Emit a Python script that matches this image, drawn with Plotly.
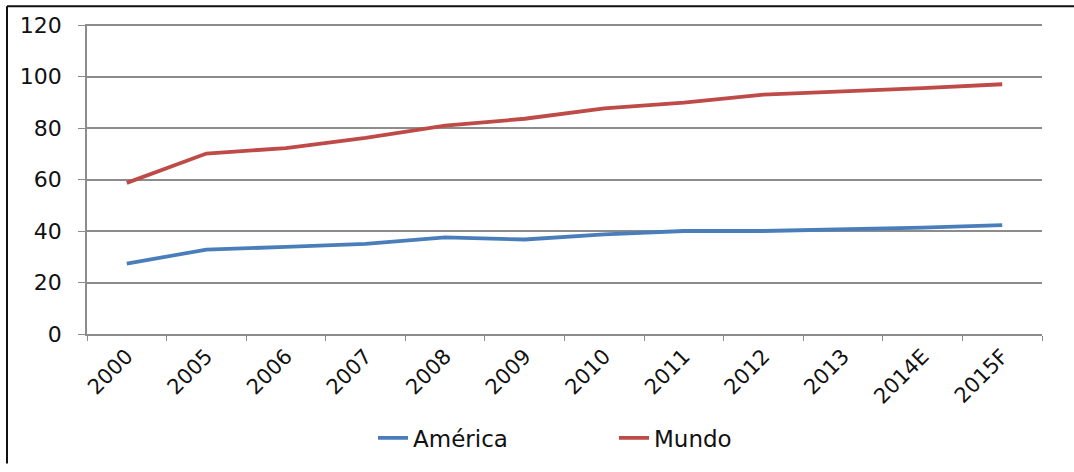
import plotly.graph_objects as go

categories = ["2000", "2005", "2006", "2007", "2008", "2009", "2010", "2011", "2012", "2013", "2014E", "2015F"]
america = [27.3, 32.8, 33.8, 35.0, 37.5, 36.7, 38.7, 40.0, 40.0, 40.6, 41.3, 42.3]
mundo = [58.7, 70.1, 72.2, 76.2, 80.9, 83.6, 87.6, 89.9, 93.0, 94.1, 95.5, 97.0]
y_ticks = [0, 20, 40, 60, 80, 100, 120]

W, H = 1074, 472
L, R, T, B = 87, 32, 24, 132
pw, ph = W - L - R, H - T - B

def px_x(p):
    return (p - L) / pw

def px_y(p):
    return (H - B - p) / ph

FONT = "DejaVu Sans, Verdana, sans-serif"

fig = go.Figure()
fig.add_trace(go.Scatter(x=categories, y=america, mode="lines", name="América",
                         line=dict(color="#4A7EBB", width=3.8)))
fig.add_trace(go.Scatter(x=categories, y=mundo, mode="lines", name="Mundo",
                         line=dict(color="#BE4B48", width=3.8)))

fig.update_layout(
    width=W, height=H,
    margin=dict(l=L, r=R, t=T, b=B, pad=0),
    paper_bgcolor="white", plot_bgcolor="white",
    font=dict(family=FONT, size=22, color="#111111"),
    showlegend=True,
    legend=dict(orientation="h", x=px_x(373), xanchor="left", y=px_y(446), yanchor="middle",
                font=dict(size=23), entrywidth=196, entrywidthmode="pixels",
                itemwidth=30, tracegroupgap=0),
    xaxis=dict(type="category", range=[-0.5, len(categories) - 0.5], tickangle=-45,
               tickson="boundaries", ticks="outside",
               ticklen=5, tickcolor="#8c8c8c", showline=True, linecolor="#8c8c8c",
               linewidth=1.5, showgrid=False, tickfont=dict(size=21), fixedrange=True),
    yaxis=dict(range=[0, 120.4], tickvals=y_ticks, ticks="outside", ticklen=7,
               tickcolor="#8c8c8c", showline=True, linecolor="#8c8c8c", linewidth=1.5,
               showgrid=True, gridcolor="#8c8c8c", gridwidth=1.5, zeroline=False,
               tickfont=dict(size=22), ticklabelstandoff=12, fixedrange=True),
)

# outer frame (top and left edges visible)
fig.add_shape(type="line", xref="paper", yref="paper",
              x0=px_x(7), x1=px_x(W), y0=px_y(6), y1=px_y(6),
              line=dict(color="#111111", width=2))
fig.add_shape(type="line", xref="paper", yref="paper",
              x0=px_x(7), x1=px_x(7), y0=px_y(6), y1=px_y(H),
              line=dict(color="#111111", width=2))

fig.write_html("out.html", config={"displayModeBar": False},
               post_script="document.body.style.margin='0';document.body.style.overflow='hidden';")
